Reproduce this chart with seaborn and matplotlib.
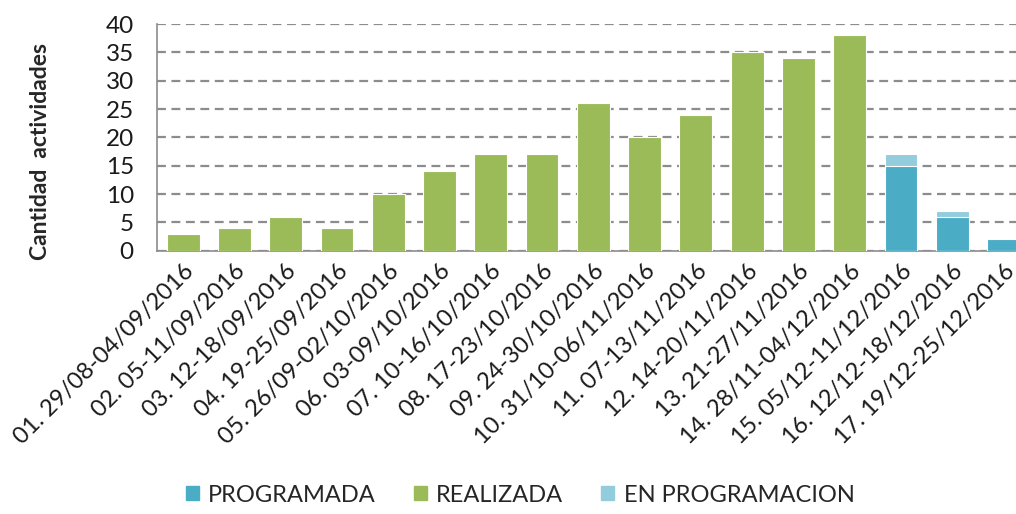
import matplotlib
matplotlib.use("Agg")
import matplotlib.pyplot as plt
from matplotlib.patches import Patch
import seaborn as sns
import pandas as pd

semanas = [
    "01. 29/08-04/09/2016", "02. 05-11/09/2016", "03. 12-18/09/2016",
    "04. 19-25/09/2016", "05. 26/09-02/10/2016", "06. 03-09/10/2016",
    "07. 10-16/10/2016", "08. 17-23/10/2016", "09. 24-30/10/2016",
    "10. 31/10-06/11/2016", "11. 07-13/11/2016", "12. 14-20/11/2016",
    "13. 21-27/11/2016", "14. 28/11-04/12/2016", "15. 05/12-11/12/2016",
    "16. 12/12-18/12/2016", "17. 19/12-25/12/2016",
]
realizada = [3, 4, 6, 4, 10, 14, 17, 17, 26, 20, 24, 35, 34, 38, 0, 0, 0]
programada = [0] * 14 + [15, 6, 2]
en_programacion = [0] * 14 + [2, 1, 0]

c_prog = "#4BACC6"
c_real = "#9BBB59"
c_enprog = "#93CDDD"

df = pd.DataFrame({
    "semana": semanas,
    "realizada": realizada,
    "programada": programada,
    "en_programacion": en_programacion,
})
df["tope"] = df["programada"] + df["en_programacion"]

sns.set_style("white")
plt.rcParams["font.family"] = ["Lato", "DejaVu Sans"]

fig = plt.figure(figsize=(10.16, 5.14), dpi=100)
ax = fig.add_axes([0.155, 0.512, 0.858, 0.441])

# apilado: primero el total, encima la parte programada
for col, color in [("tope", c_enprog), ("programada", c_prog), ("realizada", c_real)]:
    sns.barplot(data=df, x="semana", y=col, order=semanas, color=color, saturation=1,
                width=0.64, edgecolor="white", linewidth=0.8, ax=ax, zorder=3)

ax.set_ylim(0, 40)
ax.set_yticks(range(0, 41, 5))
ax.yaxis.grid(True, linestyle=(0, (4, 2.5)), color="#8c8c8c", linewidth=1.6, zorder=0)
ax.set_axisbelow(True)
ax.set_xlim(-0.5, len(semanas) - 0.5)

for s in ["top", "right"]:
    ax.spines[s].set_visible(False)
for s in ["left", "bottom"]:
    ax.spines[s].set_color("#8c8c8c")
    ax.spines[s].set_linewidth(1.2)

ax.tick_params(axis="both", length=0, labelsize=17.5, colors="#1a1a1a")
ax.tick_params(axis="y", pad=17)
ax.tick_params(axis="x", pad=7, labelsize=17)
ax.set_xticks(range(len(semanas)))
ax.set_xticklabels(semanas, rotation=45, ha="right", rotation_mode="anchor")
ax.set_xlabel("")
ax.set_ylabel("Cantidad  actividades", fontsize=16.5, fontweight="bold")
ax.yaxis.set_label_coords(-0.122, 0.44)

handles = [Patch(color=c_prog), Patch(color=c_real), Patch(color=c_enprog)]
fig.legend(handles, ["PROGRAMADA", "REALIZADA", "EN PROGRAMACION"],
           loc="lower center", bbox_to_anchor=(0.512, -0.025), ncol=3, frameon=False,
           fontsize=17, handlelength=0.55, handleheight=0.55, columnspacing=1.6,
           handletextpad=0.4)

fig.savefig("out.png", dpi=100)
